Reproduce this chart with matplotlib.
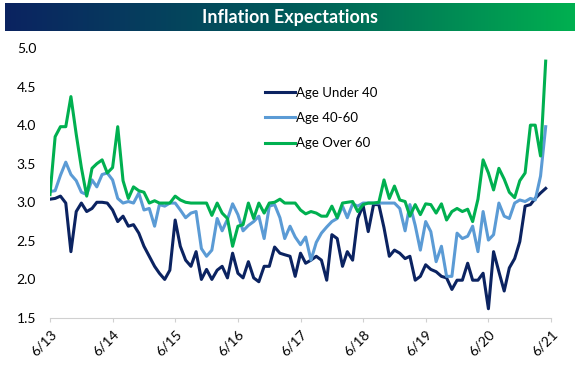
import matplotlib
matplotlib.use('Agg')
import matplotlib.pyplot as plt
import matplotlib.dates as mdates
from matplotlib.colors import LinearSegmentedColormap
import numpy as np
import pandas as pd

plt.rcParams['font.family'] = ['Lato', 'DejaVu Sans']

# monthly survey readings, 6/13 through 5/21
dates = pd.date_range('2013-06-01', periods=96, freq='MS')

under_40 = [3.04, 3.05, 3.08, 2.99, 2.36, 2.88, 2.99, 2.88, 2.92, 3.0, 3.0, 2.99,
            2.9, 2.75, 2.82, 2.69, 2.71, 2.6, 2.43, 2.3, 2.17, 2.08, 2.0, 2.12, 2.77,
            2.43, 2.25, 2.17, 2.36, 2.0, 2.13, 2.0, 2.12, 2.17, 2.02, 2.34, 2.08,
            2.02, 2.23, 2.02, 1.97, 2.17, 2.17, 2.42, 2.34, 2.32, 2.3, 2.04,
            2.34, 2.21, 2.25, 2.3, 2.25, 1.99, 2.58, 2.53, 2.17, 2.36, 2.25, 2.79,
            2.96, 2.62, 2.97, 2.97, 2.67, 2.3, 2.38, 2.34, 2.27, 2.3, 1.99, 2.04,
            2.19, 2.13, 2.1, 2.04, 2.02, 1.87, 1.99, 1.99, 2.21, 1.99, 1.99, 2.08,
            1.62, 2.36, 2.1, 1.85, 2.15, 2.27, 2.49, 2.95, 2.97, 3.05, 3.12, 3.18]

age_40_60 = [3.14, 3.15, 3.35, 3.52, 3.36, 3.28, 3.13, 3.1, 3.29, 3.2, 3.36, 3.38,
             3.29, 3.05, 2.99, 3.01, 2.99, 3.12, 2.9, 2.92, 2.69, 2.97, 2.95, 2.99, 2.99,
             2.9, 2.8, 2.86, 2.88, 2.4, 2.3, 2.38, 2.79, 2.63, 2.78, 2.98, 2.84,
             2.63, 2.7, 2.75, 2.82, 2.53, 2.95, 2.97, 2.8, 2.53, 2.69, 2.55,
             2.45, 2.55, 2.25, 2.48, 2.6, 2.68, 2.75, 2.79, 2.95, 2.8, 2.98, 2.95,
             2.99, 2.99, 2.99, 2.99, 2.99, 2.99, 2.99, 2.92, 2.63, 2.97, 2.7, 2.38,
             2.75, 2.62, 2.23, 2.43, 2.04, 2.04, 2.6, 2.53, 2.56, 2.69, 2.36, 2.88,
             2.51, 2.58, 2.99, 2.82, 2.79, 2.99, 3.03, 3.01, 3.05, 3.03, 3.34, 3.98]

over_60 = [3.1, 3.85, 3.98, 3.98, 4.37, 3.88, 3.45, 3.08, 3.44, 3.5, 3.55, 3.38,
           3.45, 3.98, 3.28, 3.05, 3.2, 3.15, 3.13, 2.99, 3.02, 2.99, 2.99, 2.99, 3.08,
           3.03, 3.0, 2.99, 2.99, 2.99, 2.99, 2.83, 2.99, 2.86, 2.79, 2.43, 2.69,
           2.71, 2.99, 2.79, 2.99, 2.86, 2.99, 3.0, 3.04, 2.99, 2.99, 2.99,
           2.9, 2.85, 2.88, 2.86, 2.82, 2.82, 2.95, 2.8, 2.99, 3.0, 3.01, 2.88,
           2.97, 2.99, 2.99, 3.0, 3.29, 3.05, 3.21, 3.03, 3.01, 2.82, 2.97, 2.84,
           2.98, 2.97, 2.86, 2.98, 2.77, 2.88, 2.92, 2.88, 2.91, 2.75, 3.04, 3.55,
           3.38, 3.16, 3.44, 3.3, 3.13, 3.06, 3.28, 3.38, 4.0, 4.0, 3.6, 4.83]

series_names = ['Age Under 40', 'Age 40-60', 'Age Over 60']
series_colors = ['#0b2361', '#5b9bd5', '#00b050']

fig = plt.figure(figsize=(5.8, 3.67), dpi=100)

# title banner with navy->green gradient
ax_t = fig.add_axes([5/580, 1 - 31/367, 570/580, 28/367])
cmap = LinearSegmentedColormap.from_list('banner', ['#0b2361', '#005a5a', '#00b050'])
ax_t.imshow(np.linspace(0, 1, 256).reshape(1, -1), cmap=cmap, aspect='auto', extent=[0, 1, 0, 1])
ax_t.text(0.5, 0.5, 'Inflation Expectations', color='white', fontsize=13, fontweight='bold',
          ha='center', va='center')
ax_t.set_axis_off()

ax = fig.add_axes([50/580, 1 - 318/367, 501/580, 270/367])
for vals, name, col in zip([under_40, age_40_60, over_60], series_names, series_colors):
    ax.plot(dates, vals, color=col, lw=2.2, label=name)

ax.set_ylim(1.5, 5.0)
ax.set_yticks(np.arange(1.5, 5.01, 0.5))
ax.yaxis.set_major_formatter(plt.FormatStrFormatter('%.1f'))
ax.set_xlim(pd.Timestamp('2013-06-01'), pd.Timestamp('2021-06-01'))
ax.xaxis.set_major_locator(mdates.MonthLocator(bymonth=6))
ax.xaxis.set_major_formatter(mdates.DateFormatter('%-m/%y'))

for s in ['top', 'right', 'left']:
    ax.spines[s].set_visible(False)
ax.spines['bottom'].set_color('#d0d0d0')
ax.tick_params(axis='y', length=0, labelsize=10, pad=10)
ax.tick_params(axis='x', length=3, color='#d0d0d0', labelsize=10, pad=4)
plt.setp(ax.get_xticklabels(), rotation=45, ha='right', rotation_mode='anchor')

ax.legend(loc='upper left', bbox_to_anchor=(0.405, 0.90), frameon=False, fontsize=9.5,
          handlelength=2.3, handletextpad=0.05, labelspacing=1.0)

fig.savefig('out.png', dpi=100)
